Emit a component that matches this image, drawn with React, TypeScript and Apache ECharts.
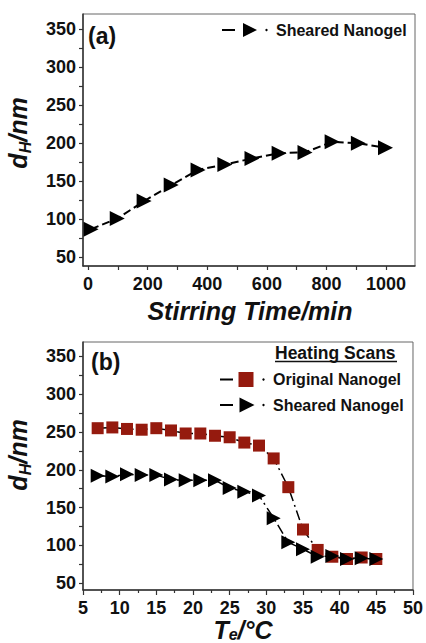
import React, { useEffect, useRef } from "react";
import * as echarts from "echarts";

// ---- data ----
const stirTime = [10, 98, 188, 279, 369, 459, 550, 641, 728, 819, 907, 998];
const stirSheared = [87, 101, 124, 145, 165, 172, 180, 187, 188, 202, 200, 194];

const temps = [7, 9, 11, 13, 15, 17, 19, 21, 23, 25, 27, 29, 31, 33, 35, 37, 39, 41, 43, 45];
const originalNanogel = [255, 256, 254, 253, 255, 252, 248, 248, 245, 243, 236, 232, 215, 177, 121, 94, 85, 82, 84, 82];
const shearedNanogel = [192, 191, 194, 193, 193, 187, 186, 186, 186, 176, 171, 166, 136, 104, 95, 85, 86, 82, 83, 82];

const timeLabels = [0, 200, 400, 600, 800, 1000];
const timeTicks = [0, 100, 200, 300, 400, 500, 600, 700, 800, 900, 1000];
const dLabels = [50, 100, 150, 200, 250, 300, 350];
const dTicks = [50, 75, 100, 125, 150, 175, 200, 225, 250, 275, 300, 325, 350];

const RED = "#951a0e";
const FONT = "'Liberation Sans', Arial, sans-serif";

const tri = (cx: number, cy: number, w: number, h: number) => ({
  type: "polygon",
  shape: { points: [[cx - w / 2, cy - h / 2], [cx + w / 2, cy], [cx - w / 2, cy + h / 2]] },
  style: { fill: "#000" },
});

export default function App() {
  const ref = useRef<HTMLDivElement>(null);
  useEffect(() => {
    if (!ref.current) return;
    const chart = echarts.init(ref.current, undefined, { renderer: "svg" });
    const axisLine = { show: true, onZero: false, lineStyle: { color: "#333", width: 1.5 } };
    const tickStyle = { color: "#333", width: 1.2 };
    const labelStyle = { fontSize: 18, fontWeight: "bold", color: "#111", fontFamily: FONT, formatter: (v: number) => String(v) };
    const mainY = (grid: number, min: number, max: number) => ({
      type: "value", gridIndex: grid, min, max,
      axisLine,
      axisTick: { show: true, length: 4, customValues: dTicks, lineStyle: tickStyle },
      axisLabel: { ...labelStyle, margin: 7, customValues: dLabels },
      splitLine: { show: false },
    });
    const titleRich = {
      i: { fontSize: 25, fontWeight: "bold", fontStyle: "italic", fontFamily: FONT, lineHeight: 30, fill: "#111" },
      s: { fontSize: 16, fontWeight: "bold", fontStyle: "italic", fontFamily: FONT, lineHeight: 18, verticalAlign: "bottom", fill: "#111" },
    };
    const tRich = {
      i: { fontSize: 25, fontWeight: "bold", fontStyle: "italic", fontFamily: FONT, lineHeight: 24, fill: "#111" },
      s: { fontSize: 16, fontWeight: "bold", fontStyle: "italic", fontFamily: FONT, lineHeight: 14, verticalAlign: "bottom", fill: "#111" },
    };
    const option: any = {
      animation: false,
      backgroundColor: "#fff",
      grid: [
        { left: 83, top: 14, width: 332, height: 252, show: true, borderColor: "#666", borderWidth: 1 },
        { left: 83, top: 342, width: 331, height: 248, show: true, borderColor: "#666", borderWidth: 1 },
      ],
      xAxis: [
        {
          type: "value", gridIndex: 0, min: -17, max: 1097,
          axisLine,
          axisTick: { show: true, length: 4, customValues: timeTicks, lineStyle: tickStyle },
          axisLabel: { ...labelStyle, margin: 9, customValues: timeLabels },
          splitLine: { show: false },
        },
        {
          type: "value", gridIndex: 1, min: 5, max: 50, interval: 5,
          axisLine,
          axisTick: { show: true, length: 5, lineStyle: tickStyle },
          minorTick: { show: true, splitNumber: 2, length: 3, lineStyle: tickStyle },
          axisLabel: { ...labelStyle, margin: 9 },
          splitLine: { show: false },
        },
      ],
      yAxis: [mainY(0, 38.6, 370), mainY(1, 41, 369)],
      series: [
        {
          name: "Sheared Nanogel (a)", type: "line", xAxisIndex: 0, yAxisIndex: 0,
          data: stirTime.map((t, i) => [t, stirSheared[i]]),
          symbol: "triangle", symbolRotate: -90, symbolSize: 15,
          itemStyle: { color: "#000" },
          lineStyle: { color: "#000", width: 2, type: [8, 4] },
        },
        {
          name: "Original Nanogel", type: "line", xAxisIndex: 1, yAxisIndex: 1,
          data: temps.map((t, i) => [t, originalNanogel[i]]),
          symbol: "rect", symbolSize: 12,
          itemStyle: { color: RED },
          lineStyle: { color: "#000", width: 1.5, type: [10, 4, 2, 4] },
        },
        {
          name: "Sheared Nanogel (b)", type: "line", xAxisIndex: 1, yAxisIndex: 1,
          data: temps.map((t, i) => [t, shearedNanogel[i]]),
          symbol: "triangle", symbolRotate: -90, symbolSize: 14,
          itemStyle: { color: "#000" },
          lineStyle: { color: "#000", width: 1.5, type: [10, 4, 2, 4] },
        },
      ],
      graphic: [
        // panel labels
        { type: "text", left: 88, top: 24, style: { text: "(a)", font: `bold 23px ${FONT}`, fill: "#111" } },
        { type: "text", left: 91, top: 350, style: { text: "(b)", font: `bold 23px ${FONT}`, fill: "#111" } },
        // y titles
        {
          type: "text", x: 18, y: 133, rotation: Math.PI / 2,
          style: { text: "{i|d}{s|H}{i|/nm}", rich: titleRich, align: "center", verticalAlign: "middle" },
        },
        {
          type: "text", x: 18, y: 455, rotation: Math.PI / 2,
          style: { text: "{i|d}{s|H}{i|/nm}", rich: titleRich, align: "center", verticalAlign: "middle" },
        },
        // x titles
        {
          type: "text", x: 250, y: 311,
          style: { text: "Stirring Time/min", font: `italic bold 25px ${FONT}`, fill: "#111", align: "center", verticalAlign: "middle" },
        },
        {
          type: "text", x: 243, y: 630,
          style: { text: "{i|T}{s|e}{i|/°C}", rich: tRich, align: "center", verticalAlign: "middle" },
        },
        // legend (a)
        { type: "line", shape: { x1: 222, y1: 30, x2: 235, y2: 30 }, style: { stroke: "#000", lineWidth: 2 } },
        tri(250, 30, 14, 14),
        { type: "circle", shape: { cx: 266.5, cy: 30, r: 1.2 }, style: { fill: "#000" } },
        { type: "text", x: 276, y: 30, style: { text: "Sheared Nanogel", font: `bold 16px ${FONT}`, fill: "#111", verticalAlign: "middle" } },
        // legend (b)
        { type: "text", x: 275, y: 353, style: { text: "Heating Scans", font: `bold 17.5px ${FONT}`, fill: "#111", verticalAlign: "middle" } },
        { type: "line", shape: { x1: 275, y1: 361.5, x2: 397, y2: 361.5 }, style: { stroke: "#111", lineWidth: 1.3 } },
        { type: "line", shape: { x1: 220, y1: 379.5, x2: 233, y2: 379.5 }, style: { stroke: "#000", lineWidth: 2 } },
        { type: "rect", shape: { x: 238.5, y: 372, width: 15, height: 15 }, style: { fill: RED } },
        { type: "circle", shape: { cx: 263.5, cy: 379.5, r: 1.2 }, style: { fill: "#000" } },
        { type: "text", x: 273, y: 379.5, style: { text: "Original Nanogel", font: `bold 16px ${FONT}`, fill: "#111", verticalAlign: "middle" } },
        { type: "line", shape: { x1: 220, y1: 405, x2: 233, y2: 405 }, style: { stroke: "#000", lineWidth: 2 } },
        tri(247, 405, 15, 15),
        { type: "circle", shape: { cx: 263.5, cy: 405, r: 1.2 }, style: { fill: "#000" } },
        { type: "text", x: 273, y: 405, style: { text: "Sheared Nanogel", font: `bold 16px ${FONT}`, fill: "#111", verticalAlign: "middle" } },
      ],
    };
    chart.setOption(option);
    return () => chart.dispose();
  }, []);
  return (
    <div
      ref={ref}
      style={{ position: "absolute", left: 0, top: 0, width: 426, height: 643, background: "#fff" }}
    />
  );
}
